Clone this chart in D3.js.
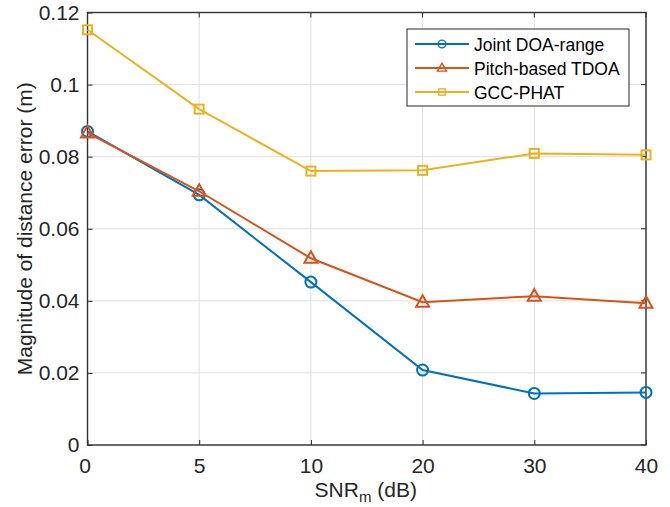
<!DOCTYPE html>
<html>
<head>
<meta charset="utf-8">
<script src="https://cdn.jsdelivr.net/npm/d3@7"></script>
<style>
  body { margin: 0; background: #fff; }
  text { font-family: "Liberation Sans", Arial, sans-serif; }
</style>
</head>
<body>
<div id="chart"></div>
<script>
const snrLabels = ['0', '5', '10', '20', '30', '40'];
const jointDoaRange = [0.0870, 0.0694, 0.0452, 0.0208, 0.0143, 0.0146];
const pitchTdoa = [0.0866, 0.0704, 0.0518, 0.0396, 0.0413, 0.0393];
const gccPhat = [0.1152, 0.0932, 0.0760, 0.0762, 0.0809, 0.0805];
const yTicks = [0, 0.02, 0.04, 0.06, 0.08, 0.1, 0.12];

const series = [
  { name: 'Joint DOA-range', values: jointDoaRange, color: '#0072BD', marker: 'circle' },
  { name: 'Pitch-based TDOA', values: pitchTdoa, color: '#D95319', marker: 'triangle' },
  { name: 'GCC-PHAT', values: gccPhat, color: '#EDB120', marker: 'square' }
];

const width = 670, height = 507;
const margin = { top: 12.5, right: 24, bottom: 62, left: 87.5 };
const innerW = width - margin.left - margin.right;
const innerH = height - margin.top - margin.bottom;

const svg = d3.select('#chart').append('svg')
  .attr('width', width)
  .attr('height', height);

const g = svg.append('g').attr('transform', `translate(${margin.left},${margin.top})`);

const x = d3.scalePoint().domain(snrLabels).range([0, innerW]);
const y = d3.scaleLinear().domain([0, 0.12]).range([innerH, 0]);

// grid
g.append('g').selectAll('line.gx')
  .data(snrLabels)
  .enter().append('line')
  .attr('x1', d => x(d)).attr('x2', d => x(d))
  .attr('y1', 0).attr('y2', innerH)
  .attr('stroke', '#dfdfdf').attr('stroke-width', 1);

g.append('g').selectAll('line.gy')
  .data(yTicks)
  .enter().append('line')
  .attr('x1', 0).attr('x2', innerW)
  .attr('y1', d => y(d)).attr('y2', d => y(d))
  .attr('stroke', '#dfdfdf').attr('stroke-width', 1);

// axes
const xAxis = g.append('g')
  .attr('transform', `translate(0,${innerH})`)
  .call(d3.axisBottom(x).tickSize(-5).tickPadding(13));
const yAxis = g.append('g')
  .call(d3.axisLeft(y).tickValues(yTicks).tickFormat(d => d === 0 ? '0' : String(+d.toFixed(2))).tickSize(-5).tickPadding(8));

xAxis.select('.domain').remove();
yAxis.select('.domain').remove();
[xAxis, yAxis].forEach(a => {
  a.selectAll('line').attr('stroke', '#262626');
  a.selectAll('text').attr('font-size', 21).attr('fill', '#262626')
    .attr('font-family', '"Liberation Sans", Arial, sans-serif');
});
xAxis.selectAll('.tick').filter(d => d === '0').select('text').attr('dx', -3);

// top & right ticks (box)
g.append('g').selectAll('line')
  .data(snrLabels).enter().append('line')
  .attr('x1', d => x(d)).attr('x2', d => x(d))
  .attr('y1', 0).attr('y2', 5)
  .attr('stroke', '#262626');
g.append('g').selectAll('line')
  .data(yTicks).enter().append('line')
  .attr('x1', innerW).attr('x2', innerW - 5)
  .attr('y1', d => y(d)).attr('y2', d => y(d))
  .attr('stroke', '#262626');

g.append('rect')
  .attr('width', innerW).attr('height', innerH)
  .attr('fill', 'none').attr('stroke', '#333').attr('stroke-width', 1.4);

// lines
const line = d3.line().x((d, i) => x(snrLabels[i])).y(d => y(d));

function drawMarker(sel, type, color) {
  if (type === 'circle') {
    sel.append('circle').attr('r', 5.5);
  } else if (type === 'triangle') {
    sel.append('path').attr('d', 'M0,-7 L6.5,4.5 L-6.5,4.5 Z');
  } else {
    sel.append('rect').attr('x', -4.5).attr('y', -4.5).attr('width', 9).attr('height', 9);
  }
  sel.selectAll('*').attr('fill', 'none').attr('stroke', color).attr('stroke-width', 2);
}

series.forEach(s => {
  g.append('path')
    .datum(s.values)
    .attr('d', line)
    .attr('fill', 'none')
    .attr('stroke', s.color)
    .attr('stroke-width', 2);
  s.values.forEach((v, i) => {
    const m = g.append('g').attr('transform', `translate(${x(snrLabels[i])},${y(v)})`);
    drawMarker(m, s.marker, s.color);
  });
});

// legend
const legend = svg.append('g').attr('transform', 'translate(407,29)');
legend.append('rect')
  .attr('width', 222).attr('height', 77)
  .attr('fill', '#fff').attr('stroke', '#262626').attr('stroke-width', 1);
series.forEach((s, i) => {
  const row = legend.append('g').attr('transform', `translate(0,${15 + i * 24})`);
  row.append('line').attr('x1', 8).attr('x2', 62).attr('y1', 0).attr('y2', 0)
    .attr('stroke', s.color).attr('stroke-width', 2);
  const m = row.append('g').attr('transform', 'translate(35,0)');
  drawMarker(m, s.marker, s.color);
  m.selectAll('*').attr('transform', 'scale(0.7)');
  row.append('text').attr('x', 67).attr('y', 6.5)
    .attr('font-size', 17.5).attr('fill', '#000').text(s.name);
});

// axis labels
const xl = svg.append('text')
  .attr('x', margin.left + innerW / 2 - 1).attr('y', 497)
  .attr('text-anchor', 'middle').attr('font-size', 21).attr('fill', '#262626');
xl.append('tspan').text('SNR');
xl.append('tspan').attr('font-size', 15).attr('dy', 5).text('m');
xl.append('tspan').attr('dy', -5).text(' (dB)');

svg.append('text')
  .attr('transform', `translate(32,${margin.top + innerH / 2}) rotate(-90)`)
  .attr('text-anchor', 'middle').attr('font-size', 21).attr('fill', '#262626')
  .text('Magnitude of distance error (m)');
</script>
</body>
</html>
